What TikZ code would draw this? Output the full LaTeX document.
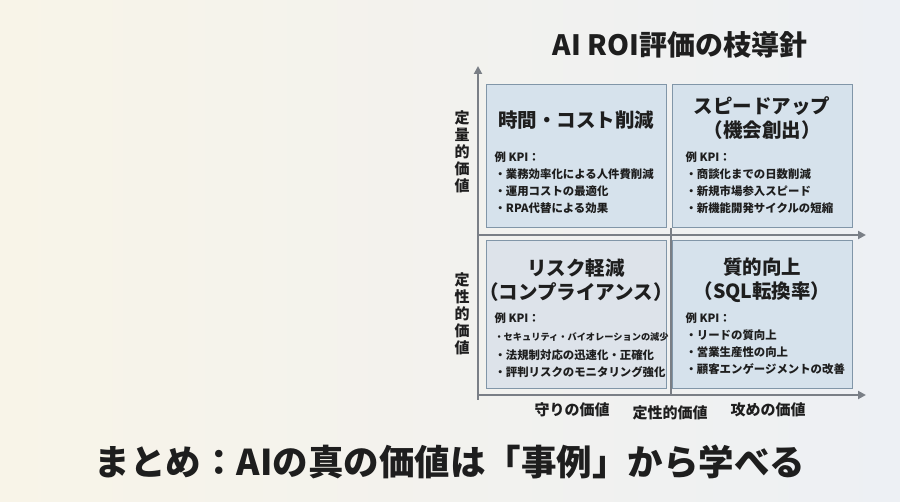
\documentclass[tikz,border=0pt]{standalone}
\usepackage{fontspec}
\setmainfont{Noto Sans CJK JP}
\newcommand\jpb{\bfseries}
\usetikzlibrary{arrows.meta}
\definecolor{bgl}{HTML}{F8F4E8}
\definecolor{bgr}{HTML}{EDF0F4}
\definecolor{boxf}{HTML}{D6E2EC}
\definecolor{boxg}{HTML}{DDE3EA}
\definecolor{boxd}{HTML}{8196A8}
\definecolor{axisc}{HTML}{7A7F86}
\definecolor{txt}{HTML}{1E1E1E}
\tikzset{
 quad/.style={draw=boxd,line width=1pt,fill=boxf,minimum width=180pt,anchor=north west},
 qtitle/.style={font=\jpb\fontsize{19.5}{24}\selectfont,text=txt,align=center},
 kpi/.style={font=\jpb\fontsize{11.4}{17}\selectfont,text=txt,align=left,anchor=north west},
 axis/.style={draw=axisc,line width=2pt,-{Triangle[length=8pt,width=8pt]}},
 vlab/.style={font=\jpb\fontsize{15}{17}\selectfont,text=txt,align=center},
 hlab/.style={font=\jpb\fontsize{15}{17}\selectfont,text=txt}
}
\begin{document}
\begin{tikzpicture}[x=1pt,y=-1pt]
\shade[left color=bgl,right color=bgr] (0,0) rectangle (900,502);
\useasboundingbox (0,0) rectangle (900,502);
\node[quad,minimum height=143pt] (tl) at (486,84) {};
\node[quad,minimum height=143pt] (tr) at (672,84) {};
\node[quad,minimum height=148pt,fill=boxg] (bl) at (486,240) {};
\node[quad,minimum height=148pt] (br) at (672,240) {};
\coordinate (o) at (478,400);
\coordinate (ytop) at (478,66);
\coordinate (m1) at (478,235);
\coordinate (m1e) at (866,235);
\coordinate (o2) at (478,395);
\coordinate (o2e) at (866,395);
\coordinate (vd1) at (671,228);
\coordinate (vd2) at (671,395);
\draw[axis] (o) -- (ytop);
\draw[axis] (m1) -- (m1e);
\draw[axis] (o2) -- (o2e);
\draw[draw=axisc,line width=1.5pt] (vd1) -- (vd2);
\node[font=\jpb\fontsize{28}{32}\selectfont,text=txt] (title) at (680,45) {AI ROI評価の枝導針};
\node[qtitle] (t1) at (576,120) {時間・コスト削減};
\node[qtitle] (t2) at (762,118) {スピードアップ\\（機会創出）};
\node[qtitle] (t3) at (576,280) {リスク軽減\\（コンプライアンス）};
\node[qtitle] (t4) at (762,280) {質的向上\\（SQL転換率）};
\node[kpi] (k1) at (491,148) {例 KPI：\\・業務効率化による人件費削減\\・運用コストの最適化\\・RPA代替による効果};
\node[kpi] (k2) at (682,148) {例 KPI：\\・商談化までの日数削減\\・新規市場参入スピード\\・新機能開発サイクルの短縮};
\node[kpi] (k3) at (491,309) {例 KPI：};
\node[kpi,font=\jpb\fontsize{9.2}{17}\selectfont] (k3a) at (491,329) {・セキュリティ・バイオレーションの減少};
\node[kpi] (k3b) at (491,346) {・法規制対応の迅速化・正確化\\・評判リスクのモニタリング強化};
\node[kpi] (k4) at (682,309) {例 KPI：\\・リードの質向上\\・営業生産性の向上\\・顧客エンゲージメントの改善};
\node[vlab] (v1) at (462,152) {定\\量\\的\\価\\値};
\node[vlab] (v2) at (462,314) {定\\性\\的\\価\\値};
\node[hlab] (h1) at (572,410) {守りの価値};
\node[hlab] (h2) at (670,413) {定性的価値};
\node[hlab] (h3) at (768,410) {攻めの価値};
\node[font=\jpb\fontsize{35.5}{40}\selectfont,text=txt] (sum) at (450,462) {まとめ：AIの真の価値は「事例」から学べる};
\end{tikzpicture}
\end{document}
